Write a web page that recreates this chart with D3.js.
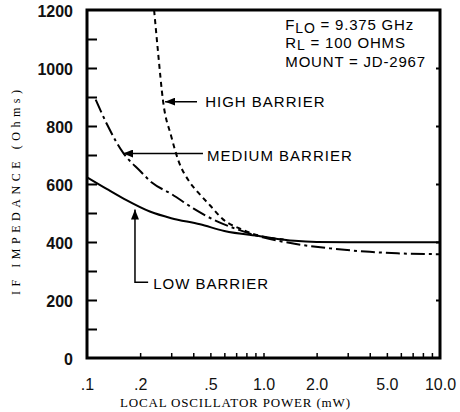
<!DOCTYPE html>
<html>
<head>
<meta charset="utf-8">
<script src="https://cdn.jsdelivr.net/npm/d3@7"></script>
<style>
body { margin: 0; background: #fff; }
svg { display: block; }
.tick text { fill: #111; }
</style>
</head>
<body>
<svg id="chart" width="460" height="412"></svg>
<script>
// curves: LO power (mW) and IF impedance (ohms)
var lowPower  = [0.1, 0.13, 0.164, 0.227, 0.3, 0.437, 0.6, 0.955, 1.5, 2, 3, 5, 10];
var lowZ      = [623, 582, 547, 505, 482, 461, 438, 420, 404, 400, 399, 399, 399];

var medPower  = [0.112, 0.13, 0.16, 0.2, 0.233, 0.3, 0.4, 0.546, 0.7, 0.99, 1.5, 2.38, 4, 5.71, 10];
var medZ      = [891, 805, 708, 645, 605, 566, 516, 471, 445, 416, 394, 378, 366, 361, 358];

var highPower = [0.24, 0.252, 0.27, 0.3, 0.328, 0.38, 0.426, 0.5, 0.59, 0.75, 0.955, 1.3];
var highZ     = [1200, 1062, 884, 765, 684, 608, 571, 525, 478, 444, 421, 409];

var yTicks = [0, 200, 400, 600, 800, 1000, 1200];
var yMinor = [100, 200, 300, 400, 500, 600, 700, 800, 900, 1000, 1100];
var xTicks = [0.1, 0.2, 0.5, 1, 2, 5, 10];
var xLabels = [".1", ".2", ".5", "1.0", "2.0", "5.0", "10.0"];
var xMinor = [0.2, 0.3, 0.4, 0.5, 0.6, 0.7, 0.8, 0.9, 1, 2, 3, 4, 5, 6, 7, 8, 9];

// notes, placed in data units
var notes = [
	{ text: "HIGH BARRIER",   tip: [0.277, 884], tail: [0.42, 884], at: [0.467, 866] },
	{ text: "MEDIUM BARRIER", tip: [0.16, 705],  tail: [0.454, 705], at: [0.479, 681] }
];
var lowNote = { text: "LOW BARRIER", tip: [0.187, 512], corner: [0.187, 261], end: [0.222, 261], at: [0.237, 237] };
var conditions = [["F", "LO", " = 9.375 GHz", 3], ["R", "L", " = 100 OHMS", 2], ["MOUNT = JD-2967", "", "", 0]];
var condAt = [1.33, [1132, 1070, 1002]];

var margin = {top: 10, right: 20, bottom: 54, left: 87};
var width = 460 - margin.left - margin.right;
var height = 412 - margin.top - margin.bottom;

var svg = d3.select("#chart");
svg.append("rect").attr("width", 460).attr("height", 412).attr("fill", "#fff");

svg.append("defs").append("marker")
	.attr("id", "head")
	.attr("viewBox", "0 0 10 8")
	.attr("refX", 10).attr("refY", 4)
	.attr("markerWidth", 10).attr("markerHeight", 8)
	.attr("markerUnits", "userSpaceOnUse")
	.attr("orient", "auto")
	.append("path").attr("d", "M0,0L10,4L0,8Z").attr("fill", "#000");

var g = svg.append("g").attr("transform", "translate(" + margin.left + "," + margin.top + ")");

var x = d3.scaleLog().domain([0.1, 10]).range([0, width]);
var y = d3.scaleLinear().domain([0, 1200]).range([height, 0]);

// inward ticks
g.append("g").attr("class", "axis yminor")
	.call(d3.axisLeft(y).tickValues(yMinor).tickSize(-10).tickFormat(""))
	.call(function(s){ s.select(".domain").remove(); s.selectAll("line").attr("stroke-width", 2); });

g.append("g").attr("class", "axis yright")
	.attr("transform", "translate(" + width + ",0)")
	.call(d3.axisRight(y).tickValues([200, 400, 600, 800, 1000]).tickSize(-4).tickFormat(""))
	.call(function(s){ s.select(".domain").remove(); s.selectAll("line").attr("stroke-width", 2); });

g.append("g").attr("class", "axis xminor")
	.attr("transform", "translate(0," + height + ")")
	.call(d3.axisBottom(x).tickValues(xMinor).tickSize(-5).tickFormat(""))
	.call(function(s){ s.select(".domain").remove(); s.selectAll("line").attr("stroke-width", 1.5); });

// tick labels
g.append("g").attr("class", "axis y")
	.call(d3.axisLeft(y).tickValues(yTicks).tickSize(0).tickPadding(14).tickFormat(d3.format("d")))
	.call(function(s){
		s.select(".domain").remove();
		s.selectAll("text").attr("font-family", "Liberation Sans, Arial, sans-serif")
			.attr("font-size", 16).attr("font-weight", "bold").attr("dy", "0.42em");
	});

g.append("g").attr("class", "axis x")
	.attr("transform", "translate(0," + height + ")")
	.call(d3.axisBottom(x).tickValues(xTicks).tickSize(0).tickPadding(21).tickFormat(function(d, i){ return xLabels[i]; }))
	.call(function(s){
		s.select(".domain").remove();
		s.selectAll("text").attr("font-family", "Liberation Sans, Arial, sans-serif")
			.attr("font-size", 16);
	});

// frame
g.append("rect")
	.attr("width", width).attr("height", height)
	.attr("fill", "none").attr("stroke", "#000").attr("stroke-width", 3);

var line = d3.line()
	.x(function(d){ return x(d[0]); })
	.y(function(d){ return y(d[1]); })
	.curve(d3.curveMonotoneX);

g.append("path").attr("class", "line low")
	.attr("d", line(d3.zip(lowPower, lowZ)))
	.attr("fill", "none").attr("stroke", "#000").attr("stroke-width", 2);

g.append("path").attr("class", "line medium")
	.attr("d", line(d3.zip(medPower, medZ)))
	.attr("fill", "none").attr("stroke", "#000").attr("stroke-width", 2)
	.attr("stroke-dasharray", "14,4,3,4");

g.append("path").attr("class", "line high")
	.attr("d", line(d3.zip(highPower, highZ)))
	.attr("fill", "none").attr("stroke", "#000").attr("stroke-width", 2)
	.attr("stroke-dasharray", "5,4");

// arrows + labels
var sans = "Liberation Sans, Arial, sans-serif";
notes.forEach(function(n){
	g.append("line")
		.attr("x1", x(n.tail[0])).attr("y1", y(n.tail[1]))
		.attr("x2", x(n.tip[0])).attr("y2", y(n.tip[1]))
		.attr("stroke", "#000").attr("stroke-width", 1.5)
		.attr("marker-end", "url(#head)");
	g.append("text")
		.attr("x", x(n.at[0])).attr("y", y(n.at[1]))
		.attr("font-family", sans).attr("font-size", 15).attr("letter-spacing", 1)
		.text(n.text);
});

g.append("polyline")
	.attr("points", [lowNote.end, lowNote.corner, lowNote.tip].map(function(p){ return x(p[0]) + "," + y(p[1]); }).join(" "))
	.attr("fill", "none").attr("stroke", "#000").attr("stroke-width", 1.5)
	.attr("marker-end", "url(#head)");
g.append("text")
	.attr("x", x(lowNote.at[0])).attr("y", y(lowNote.at[1]))
	.attr("font-family", sans).attr("font-size", 15).attr("letter-spacing", 1)
	.text(lowNote.text);

// conditions block
conditions.forEach(function(c, i){
	var t = g.append("text")
		.attr("x", x(condAt[0])).attr("y", y(condAt[1][i]))
		.attr("font-family", sans).attr("font-size", 15).attr("letter-spacing", 0.8);
	t.append("tspan").text(c[0]);
	if (c[1]) {
		t.append("tspan").attr("dy", c[3]).attr("font-size", 14).text(c[1]);
		t.append("tspan").attr("dy", -c[3]).text(c[2]);
	}
});

// axis titles
svg.append("text")
	.attr("x", 120).attr("y", 407)
	.attr("font-family", "Liberation Serif, Times New Roman, serif").attr("font-size", 13)
	.attr("textLength", 230).attr("lengthAdjust", "spacing")
	.text("LOCAL OSCILLATOR POWER (mW)");

svg.append("text")
	.attr("transform", "translate(20,295) rotate(-90)")
	.attr("font-family", "Liberation Serif, Times New Roman, serif").attr("font-size", 12)
	.attr("textLength", 205).attr("lengthAdjust", "spacing")
	.text("IF IMPEDANCE (Ohms)");
</script>
</body>
</html>
